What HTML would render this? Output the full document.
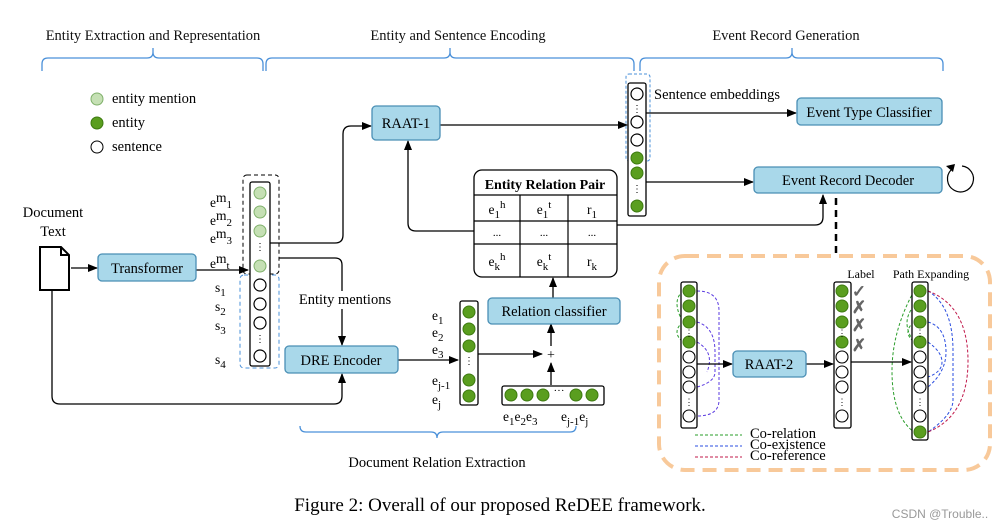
<!DOCTYPE html>
<html><head><meta charset="utf-8"><style>
html,body{margin:0;padding:0;background:#fff;}
svg{display:block;font-family:"Liberation Serif",serif;}
</style></head><body>
<svg width="1003" height="530" viewBox="0 0 1003 530" xmlns="http://www.w3.org/2000/svg">
<defs>
<marker id="a" markerWidth="10" markerHeight="8" refX="9" refY="4" orient="auto" markerUnits="userSpaceOnUse"><path d="M0,0 L10,4 L0,8 z" fill="#000"/></marker>
</defs>
<g font-size="14.5" fill="#111">
<text x="153" y="40" text-anchor="middle">Entity Extraction and Representation</text>
<text x="458" y="40" text-anchor="middle">Entity and Sentence Encoding</text>
<text x="786" y="40" text-anchor="middle">Event Record Generation</text>
</g>
<g fill="none" stroke="#4a90d9" stroke-width="1.3">
<path d="M42,71 V64 q0,-6 6,-6 H147 q6,0 6,-6 V48 V52 q0,6 6,6 H257 q6,0 6,6 V71"/>
<path d="M266,71 V64 q0,-6 6,-6 H444 q6,0 6,-6 V48 V52 q0,6 6,6 H628 q6,0 6,6 V71"/>
<path d="M640,71 V64 q0,-6 6,-6 H786 q6,0 6,-6 V48 V52 q0,6 6,6 H937 q6,0 6,6 V71"/>
<path d="M300,426 q0,6 6,6 H431 q6,0 6,6 q0,-6 6,-6 H570 q6,0 6,-6"/>
</g>
<text x="437" y="467" text-anchor="middle" font-size="14.5">Document Relation Extraction</text>
<circle cx="97" cy="99" r="6" fill="#c5e0b4" stroke="#7fb06a"/>
<circle cx="97" cy="123" r="6" fill="#5a9e1f" stroke="#3d7a10"/>
<circle cx="97" cy="147" r="6" fill="#fff" stroke="#000"/>
<g font-size="14.5"><text x="112" y="103">entity mention</text><text x="112" y="127">entity</text><text x="112" y="151">sentence</text></g>
<text x="53" y="217" text-anchor="middle" font-size="14.5">Document</text>
<text x="53" y="236" text-anchor="middle" font-size="14.5">Text</text>
<path d="M40,247 H61 L69,255 V290 H40 Z M61,247 V255 H69" fill="#fff" stroke="#000" stroke-width="2"/>
<g fill="none" stroke="#000" stroke-width="1.3">
<path d="M71,268 H97" marker-end="url(#a)"/>
<path d="M196,270 H248" marker-end="url(#a)"/>
<path d="M52,291 V396 q0,8 8,8 H334 q8,0 8,-8 V374" marker-end="url(#a)"/>
<path d="M270,243 H335 q8,0 8,-8 V134 q0,-8 8,-8 H371" marker-end="url(#a)"/>
<path d="M279,258 H335 q7,0 7,7 V345" marker-end="url(#a)"/>
<path d="M398,360 H458" marker-end="url(#a)"/>
<path d="M478,354 H542" marker-end="url(#a)"/>
<path d="M551,385 V363" marker-end="url(#a)"/>
<path d="M551,346 V324" marker-end="url(#a)"/>
<path d="M553,298 V278" marker-end="url(#a)"/>
<path d="M474,231 H416 q-8,0 -8,-8 V141" marker-end="url(#a)"/>
<path d="M617,225 H815 q8,0 8,-8 V195" marker-end="url(#a)"/>
<path d="M440,125 H627" marker-end="url(#a)"/>
<path d="M646,113 H796" marker-end="url(#a)"/>
<path d="M646,182 H753" marker-end="url(#a)"/>
</g>
<rect x="98" y="254" width="98" height="27" rx="4" fill="#a9d8ea" stroke="#4a8fb5" stroke-width="1.3"/>
<text x="147" y="273" text-anchor="middle" font-size="14.5">Transformer</text>
<rect x="243" y="175" width="36" height="99" rx="4" fill="none" stroke="#000" stroke-dasharray="4,3"/>
<rect x="240" y="275" width="39" height="93" rx="4" fill="none" stroke="#4a90d9" stroke-dasharray="4,3"/>
<rect x="250" y="182" width="20" height="184" rx="2" fill="#fff" stroke="#000" stroke-width="1.3"/>
<g fill="#c5e0b4" stroke="#7fb06a"><circle cx="260" cy="193" r="6"/><circle cx="260" cy="212" r="6"/><circle cx="260" cy="231" r="6"/><circle cx="260" cy="266" r="6"/></g>
<g fill="#fff" stroke="#000" stroke-width="1.2"><circle cx="260" cy="285" r="6"/><circle cx="260" cy="304" r="6"/><circle cx="260" cy="323" r="6"/><circle cx="260" cy="356" r="6"/></g>
<text x="260" y="250" text-anchor="middle" font-size="10">⋮</text>
<text x="260" y="342" text-anchor="middle" font-size="10">⋮</text>
<g font-size="13.5">
<text x="210" y="207">e<tspan dy="-5">m</tspan><tspan dy="6" font-size="11">1</tspan></text>
<text x="210" y="225">e<tspan dy="-5">m</tspan><tspan dy="6" font-size="11">2</tspan></text>
<text x="210" y="243">e<tspan dy="-5">m</tspan><tspan dy="6" font-size="11">3</tspan></text>
<text x="210" y="268">e<tspan dy="-5">m</tspan><tspan dy="6" font-size="11">t</tspan></text>
<text x="215" y="292">s<tspan dy="4" font-size="11">1</tspan></text>
<text x="215" y="311">s<tspan dy="4" font-size="11">2</tspan></text>
<text x="215" y="330">s<tspan dy="4" font-size="11">3</tspan></text>
<text x="215" y="364">s<tspan dy="4" font-size="11">4</tspan></text>
</g>
<rect x="290" y="291" width="110" height="18" fill="#fff"/>
<text x="345" y="304" text-anchor="middle" font-size="14.5">Entity mentions</text>
<rect x="372" y="106" width="68" height="34" rx="4" fill="#a9d8ea" stroke="#4a8fb5" stroke-width="1.3"/>
<text x="406" y="128" text-anchor="middle" font-size="14.5">RAAT-1</text>
<rect x="285" y="346" width="113" height="27" rx="4" fill="#a9d8ea" stroke="#4a8fb5" stroke-width="1.3"/>
<text x="341" y="365" text-anchor="middle" font-size="14.5">DRE Encoder</text>
<rect x="460" y="301" width="18" height="104" rx="2" fill="#fff" stroke="#000" stroke-width="1.3"/>
<g fill="#5a9e1f" stroke="#3d7a10"><circle cx="469" cy="312" r="6"/><circle cx="469" cy="329" r="6"/><circle cx="469" cy="346" r="6"/><circle cx="469" cy="380" r="6"/><circle cx="469" cy="396" r="6"/></g>
<text x="469" y="364" text-anchor="middle" font-size="10">⋮</text>
<g font-size="13.5">
<text x="432" y="320">e<tspan dy="4" font-size="11">1</tspan></text>
<text x="432" y="337">e<tspan dy="4" font-size="11">2</tspan></text>
<text x="432" y="354">e<tspan dy="4" font-size="11">3</tspan></text>
<text x="432" y="385">e<tspan dy="4" font-size="11">j-1</tspan></text>
<text x="432" y="404">e<tspan dy="4" font-size="11">j</tspan></text>
</g>
<text x="551" y="359" text-anchor="middle" font-size="14">+</text>
<rect x="502" y="386" width="102" height="19" rx="2" fill="#fff" stroke="#000" stroke-width="1.3"/>
<g fill="#5a9e1f" stroke="#3d7a10"><circle cx="511" cy="395" r="6"/><circle cx="527" cy="395" r="6"/><circle cx="543" cy="395" r="6"/><circle cx="576" cy="395" r="6"/><circle cx="592" cy="395" r="6"/></g>
<text x="559" y="394" text-anchor="middle" font-size="11">···</text>
<text x="503" y="421" font-size="13.5">e<tspan dy="4" font-size="11">1</tspan><tspan dy="-4">e</tspan><tspan dy="4" font-size="11">2</tspan><tspan dy="-4">e</tspan><tspan dy="4" font-size="11">3</tspan></text>
<text x="561" y="421" font-size="13.5">e<tspan dy="4" font-size="11">j-1</tspan><tspan dy="-4">e</tspan><tspan dy="4" font-size="11">j</tspan></text>
<rect x="488" y="298" width="132" height="26" rx="4" fill="#a9d8ea" stroke="#4a8fb5" stroke-width="1.3"/>
<text x="554" y="316" text-anchor="middle" font-size="14.5">Relation classifier</text>
<rect x="474" y="170" width="143" height="107" rx="8" fill="#fff" stroke="#000" stroke-width="1.3"/>
<text x="545" y="189" text-anchor="middle" font-size="14" font-weight="bold">Entity Relation Pair</text>
<g stroke="#000" stroke-width="1.2"><path d="M474,195 H617 M474,221 H617 M474,244 H617 M520,195 V277 M568,195 V277"/></g>
<g font-size="13.5" text-anchor="middle">
<text x="497" y="214">e<tspan dy="4" font-size="11">1</tspan><tspan dy="-10" font-size="11">h</tspan></text>
<text x="544" y="214">e<tspan dy="4" font-size="11">1</tspan><tspan dy="-10" font-size="11">t</tspan></text>
<text x="592" y="214">r<tspan dy="4" font-size="11">1</tspan></text>
<text x="497" y="236" font-size="11">...</text><text x="544" y="236" font-size="11">...</text><text x="592" y="236" font-size="11">...</text>
<text x="497" y="266">e<tspan dy="4" font-size="11">k</tspan><tspan dy="-10" font-size="11">h</tspan></text>
<text x="544" y="266">e<tspan dy="4" font-size="11">k</tspan><tspan dy="-10" font-size="11">t</tspan></text>
<text x="592" y="266">r<tspan dy="4" font-size="11">k</tspan></text>
</g>
<rect x="626" y="74" width="24" height="87" rx="3" fill="none" stroke="#4a90d9" stroke-dasharray="3,2"/>
<rect x="628" y="83" width="18" height="133" rx="2" fill="#fff" stroke="#000" stroke-width="1.3"/>
<g fill="#fff" stroke="#000" stroke-width="1.2"><circle cx="637" cy="94" r="6"/><circle cx="637" cy="122" r="6"/><circle cx="637" cy="140" r="6"/></g>
<g fill="#5a9e1f" stroke="#3d7a10"><circle cx="637" cy="158" r="6"/><circle cx="637" cy="173" r="6"/><circle cx="637" cy="206" r="6"/></g>
<text x="637" y="112" text-anchor="middle" font-size="10">⋮</text>
<text x="637" y="192" text-anchor="middle" font-size="10">⋮</text>
<text x="654" y="99" font-size="14.5">Sentence embeddings</text>
<rect x="797" y="98" width="145" height="27" rx="4" fill="#a9d8ea" stroke="#4a8fb5" stroke-width="1.3"/>
<text x="869" y="117" text-anchor="middle" font-size="14.5">Event Type Classifier</text>
<rect x="754" y="167" width="188" height="26" rx="4" fill="#a9d8ea" stroke="#4a8fb5" stroke-width="1.3"/>
<text x="848" y="185" text-anchor="middle" font-size="14.5">Event Record Decoder</text>
<path d="M951,170 A13,13 0 1 0 962,166" fill="none" stroke="#000" stroke-width="1.2"/>
<path d="M946,166 L953,172 L955,164 z" fill="#000"/>
<path d="M836,198 V256" stroke="#000" stroke-width="2.5" stroke-dasharray="7,5"/>
<rect x="659" y="256" width="331" height="214" rx="26" fill="none" stroke="#f8c99a" stroke-width="4" stroke-dasharray="14,8"/>
<text x="861" y="278" text-anchor="middle" font-size="12">Label</text>
<text x="931" y="278" text-anchor="middle" font-size="12">Path Expanding</text>
<g fill="none" stroke-width="1" stroke-dasharray="3,2">
<path d="M683,291 q-12,10 0,31 M683,322 q-12,10 0,20" stroke="#2a9d2a"/>
<path d="M697,291 q22,0 22,20 V400 q0,16 -22,16 M697,322 q18,5 18,30 V372 q0,10 -18,15 M697,342 q18,10 10,30" stroke="#5b3be0"/>
<path d="M914,291 q-22,40 -22,80 q0,45 22,61 M914,306 q-14,16 0,36 M914,322 q-12,10 0,20" stroke="#2a9d2a"/>
<path d="M928,291 q25,15 25,60 V400 q0,15 -25,32 M928,322 q18,5 18,30 q0,20 -18,35 M928,342 q14,10 14,20 q0,10 -14,15" stroke="#2a4de0"/>
<path d="M928,291 q40,15 40,70 q0,55 -40,71" stroke="#c0184a"/>
<path d="M695,435 H742" stroke="#2a9d2a"/>
<path d="M695,446 H742" stroke="#2a4de0"/>
<path d="M695,457 H742" stroke="#c0184a"/>
</g>
<g font-size="14.5"><text x="750" y="438">Co-relation</text><text x="750" y="449">Co-existence</text><text x="750" y="460">Co-reference</text></g>
<g stroke="#000" stroke-width="1.3" fill="#fff">
<rect x="681" y="282" width="16" height="146" rx="2"/>
<rect x="834" y="282" width="17" height="146" rx="2"/>
<rect x="912" y="282" width="16" height="158" rx="2"/>
</g>
<g fill="#5a9e1f" stroke="#3d7a10">
<circle cx="689" cy="291" r="6"/><circle cx="689" cy="306" r="6"/><circle cx="689" cy="322" r="6"/><circle cx="689" cy="342" r="6"/>
<circle cx="842" cy="291" r="6"/><circle cx="842" cy="306" r="6"/><circle cx="842" cy="322" r="6"/><circle cx="842" cy="342" r="6"/>
<circle cx="920" cy="291" r="6"/><circle cx="920" cy="306" r="6"/><circle cx="920" cy="322" r="6"/><circle cx="920" cy="342" r="6"/><circle cx="920" cy="432" r="6"/>
</g>
<g fill="#fff" stroke="#000" stroke-width="1.1">
<circle cx="689" cy="357" r="6"/><circle cx="689" cy="372" r="6"/><circle cx="689" cy="387" r="6"/><circle cx="689" cy="416" r="6"/>
<circle cx="842" cy="357" r="6"/><circle cx="842" cy="372" r="6"/><circle cx="842" cy="387" r="6"/><circle cx="842" cy="416" r="6"/>
<circle cx="920" cy="357" r="6"/><circle cx="920" cy="372" r="6"/><circle cx="920" cy="387" r="6"/><circle cx="920" cy="416" r="6"/>
</g>
<g font-size="9" text-anchor="middle"><text x="689" y="336">⋮</text><text x="689" y="405">⋮</text><text x="842" y="336">⋮</text><text x="842" y="405">⋮</text><text x="920" y="336">⋮</text><text x="920" y="405">⋮</text></g>
<g fill="none" stroke="#000" stroke-width="1.3">
<path d="M697,364 H732" marker-end="url(#a)"/>
<path d="M806,364 H833" marker-end="url(#a)"/>
<path d="M851,362 H911" marker-end="url(#a)"/>
</g>
<rect x="733" y="351" width="73" height="26" rx="4" fill="#a9d8ea" stroke="#4a8fb5" stroke-width="1.3"/>
<text x="769" y="369" text-anchor="middle" font-size="14.5">RAAT-2</text>
<g font-size="17" font-weight="bold" fill="#666" text-anchor="middle">
<text x="859" y="297">✓</text><text x="859" y="313">✗</text><text x="859" y="331">✗</text><text x="859" y="351">✗</text>
</g>
<text x="500" y="511" text-anchor="middle" font-size="19">Figure 2: Overall of our proposed ReDEE framework.</text>
<text x="940" y="518" text-anchor="middle" font-size="12" fill="#999" font-family="Liberation Sans, sans-serif">CSDN @Trouble..</text>
</svg>
</body></html>
